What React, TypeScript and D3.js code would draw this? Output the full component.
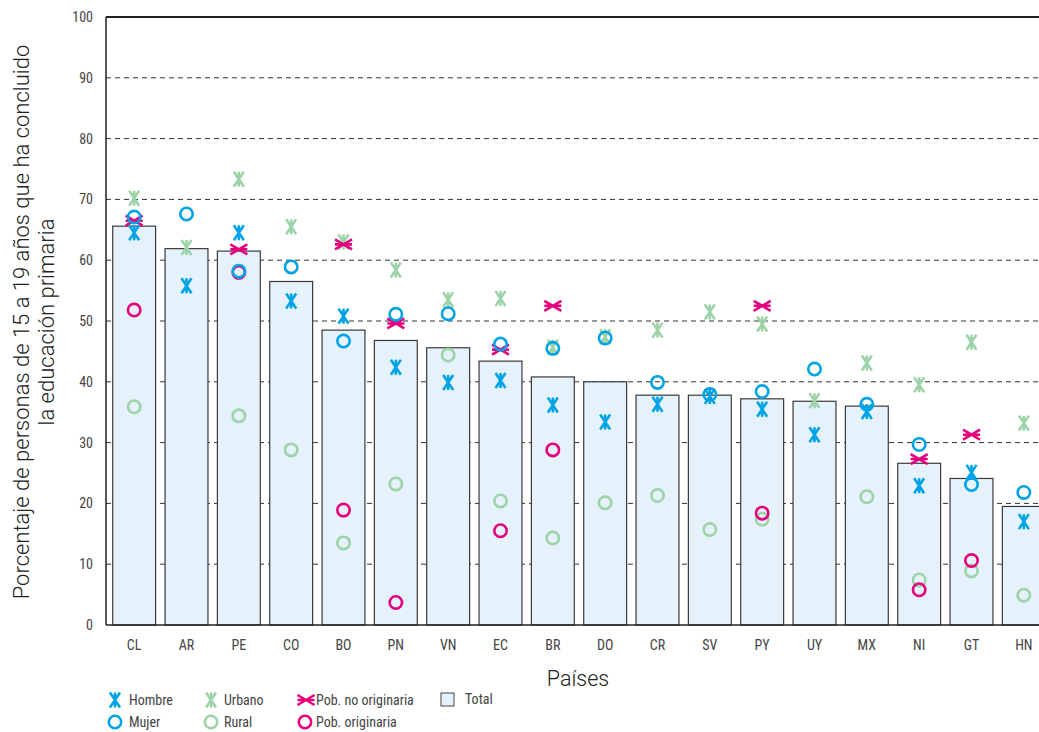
import React from "react";
import * as d3 from "d3";

const countries = ["CL","AR","PE","CO","BO","PN","VN","EC","BR","DO","CR","SV","PY","UY","MX","NI","GT","HN"];
const total =      [65.6,61.9,61.5,56.5,48.5,46.8,45.6,43.4,40.8,40.0,37.8,37.8,37.2,36.8,36.0,26.6,24.1,19.5];
const hombre =     [64.5,55.8,64.5,53.3,50.8,42.4,39.9,40.2,36.2,33.4,36.3,37.6,35.5,31.3,35.1,22.9,25.1,17.0];
const mujer =      [67.1,67.6,58.2,58.9,46.7,51.1,51.2,46.2,45.5,47.2,39.9,37.9,38.4,42.1,36.3,29.7,23.1,21.8];
const urbano =     [70.2,62.1,73.3,65.5,63.0,58.4,53.5,53.7,45.7,47.4,48.5,51.5,49.5,36.9,43.1,39.5,46.5,33.2];
const rural =      [35.9,null,34.4,28.8,13.5,23.2,44.4,20.4,14.3,20.1,21.3,15.7,17.4,null,21.1,7.4,8.9,4.9];
const pobNoOrig =  [66.5,null,61.8,null,62.6,49.6,null,45.3,52.5,null,null,null,52.5,null,null,27.3,31.3,null];
const pobOrig =    [51.8,null,58.0,null,18.9,3.7,null,15.5,28.8,null,null,null,18.4,null,null,5.8,10.6,null];
const yTicks = [0,10,20,30,40,50,60,70,80,90,100];

const BLUE = "#00a3e4";
const GREEN = "#9dd3a8";
const PINK = "#e5007d";
const FONT = "'Liberation Sans Narrow', 'Arial Narrow', 'Roboto Condensed', sans-serif";

const x0 = 106, yTop = 17, yBot = 625;
const x = d3.scaleBand<string>().domain(countries).range([108, 1050]).paddingInner(0.18).paddingOuter(0.09);
const y = d3.scaleLinear().domain([0, 100]).range([yBot, yTop]);

function Star({ cx, cy, color, horiz = false }: { cx: number; cy: number; color: string; horiz?: boolean }) {
  const w = 5, h = 7.5;
  const d = horiz
    ? `M${-8.5},0 L${8.5},0 M${-8.5},${-w} L${8.5},${w} M${-8.5},${w} L${8.5},${-w}`
    : `M0,${-h} L0,${h} M${-w},${-h} L${w},${h} M${w},${-h} L${-w},${h}`;
  return <path transform={`translate(${cx},${cy})`} d={d} stroke={color} strokeWidth={2.6} fill="none" />;
}

function Ring({ cx, cy, color }: { cx: number; cy: number; color: string }) {
  return <circle cx={cx} cy={cy} r={6.2} stroke={color} strokeWidth={2.6} fill="none" />;
}

export default function App() {
  const cxOf = (c: string) => (x(c) ?? 0) + x.bandwidth() / 2;
  const pts = (arr: (number | null)[], render: (cx: number, cy: number, i: number) => React.ReactNode) =>
    arr.map((v, i) => (v == null ? null : <g key={i}>{render(cxOf(countries[i]), y(v), i)}</g>));

  return (
    <svg width={1039} height={732} style={{ position: "absolute", left: 0, top: 0, fontFamily: FONT }}>
      <rect width={1039} height={732} fill="#fff" />
      {/* gridlines */}
      {yTicks.filter((t) => t > 0 && t < 100).map((t) => (
        <line key={t} x1={x0} x2={1039} y1={y(t)} y2={y(t)} stroke="#333" strokeWidth={1} strokeDasharray="5,4" />
      ))}
      {/* bars */}
      {countries.map((c, i) => (
        <rect key={c} x={x(c)} y={y(total[i])} width={x.bandwidth()} height={yBot - y(total[i])}
          fill="#e5f1fb" stroke="#3a3a3a" strokeWidth={1.2} />
      ))}
      {/* frame */}
      <line x1={x0} x2={1039} y1={yTop} y2={yTop} stroke="#222" strokeWidth={2} />
      <line x1={x0} x2={x0} y1={yTop} y2={yBot} stroke="#222" strokeWidth={1.5} />
      <line x1={x0} x2={1039} y1={yBot} y2={yBot} stroke="#222" strokeWidth={1.5} />
      {/* y ticks */}
      {yTicks.map((t) => (
        <text key={t} x={93} y={y(t)} dy="0.35em" textAnchor="end" fontSize={14} fill="#444">{t}</text>
      ))}
      {/* x labels */}
      {countries.map((c) => (
        <text key={c} x={cxOf(c)} y={650} textAnchor="middle" fontSize={14} fill="#444">{c}</text>
      ))}
      {/* markers */}
      {pts(rural, (cx, cy) => <Ring cx={cx} cy={cy} color={GREEN} />)}
      {pts(urbano, (cx, cy) => <Star cx={cx} cy={cy} color={GREEN} />)}
      {pts(pobOrig, (cx, cy) => <Ring cx={cx} cy={cy} color={PINK} />)}
      {pts(pobNoOrig, (cx, cy) => <Star cx={cx} cy={cy} color={PINK} horiz />)}
      {pts(hombre, (cx, cy) => <Star cx={cx} cy={cy} color={BLUE} />)}
      {pts(mujer, (cx, cy) => <Ring cx={cx} cy={cy} color={BLUE} />)}
      {/* axis titles */}
      <text x={578} y={686} textAnchor="middle" fontSize={21.5} fill="#222" fontFamily="Roboto, sans-serif" fontWeight={300}>Países</text>
      <g transform="translate(0,322) rotate(-90)" fontSize={22} fill="#222" fontFamily="Roboto, sans-serif" fontWeight={300}>
        <text x={0} y={29} textAnchor="middle">Porcentaje de personas de 15 a 19 años que ha concluido</text>
        <text x={0} y={54} textAnchor="middle">la educación primaria</text>
      </g>
      {/* legend */}
      <g fontSize={14} fill="#444">
        <Star cx={115} cy={700} color={BLUE} />
        <text x={129} y={705}>Hombre</text>
        <Ring cx={115} cy={722} color={BLUE} />
        <text x={129} y={727}>Mujer</text>
        <Star cx={211} cy={700} color={GREEN} />
        <text x={224} y={705}>Urbano</text>
        <Ring cx={211} cy={722} color={GREEN} />
        <text x={224} y={727}>Rural</text>
        <Star cx={306} cy={700} color={PINK} horiz />
        <text x={316} y={705}>Pob. no originaria</text>
        <Ring cx={305} cy={722} color={PINK} />
        <text x={316} y={727}>Pob. originaria</text>
        <rect x={441} y={693} width={13} height={13} fill="#e5f1fb" stroke="#444" strokeWidth={1} />
        <text x={465} y={704}>Total</text>
      </g>
    </svg>
  );
}
